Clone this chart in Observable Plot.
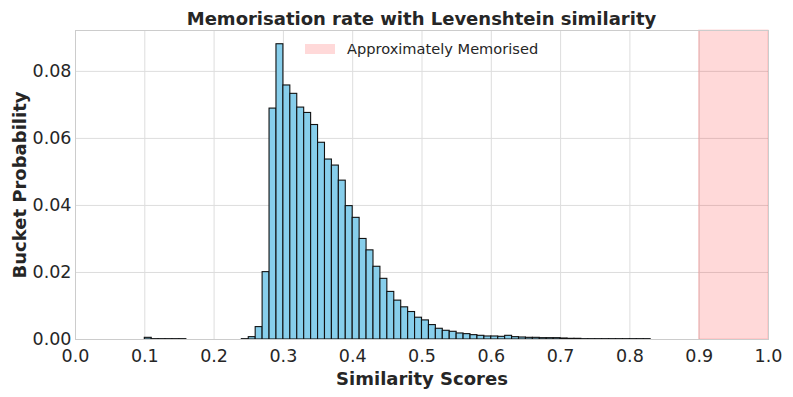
<!DOCTYPE html>
<html>
<head>
<meta charset="utf-8">
<script src="https://cdn.jsdelivr.net/npm/d3@7"></script>
<script src="https://cdn.jsdelivr.net/npm/@observablehq/plot@0.6"></script>
<style>
  html, body { margin: 0; padding: 0; background: #fff; }
  #wrap { position: relative; width: 793px; height: 397px; font-family: "DejaVu Sans", sans-serif; color: #262626; }
  #title { position: absolute; left: 75px; width: 693px; top: 8px; text-align: center; font-weight: bold; font-size: 18px; white-space: nowrap; }
  #legend { position: absolute; left: 305px; top: 40px; display: flex; align-items: center; font-size: 14.6px; }
  #legend .sw { width: 30px; height: 10px; background: rgba(255,0,0,0.15); margin-right: 12px; }
  svg [aria-label="x-axis label"] text, svg [aria-label="y-axis label"] text { font-weight: bold; font-size: 18px; }
</style>
</head>
<body>
<div id="wrap">
  <div id="title"></div>
  <div id="legend"><div class="sw"></div><span id="legendText"></span></div>
</div>
<script>
const titleText = "Memorisation rate with Levenshtein similarity";
const legendLabel = "Approximately Memorised";
const xLabel = "Similarity Scores";
const yLabel = "Bucket Probability";

const bucketStart = [0.10, 0.11, 0.12, 0.13, 0.14, 0.15, 0.24, 0.25, 0.26, 0.27, 0.28, 0.29,
  0.30, 0.31, 0.32, 0.33, 0.34, 0.35, 0.36, 0.37, 0.38, 0.39,
  0.40, 0.41, 0.42, 0.43, 0.44, 0.45, 0.46, 0.47, 0.48, 0.49,
  0.50, 0.51, 0.52, 0.53, 0.54, 0.55, 0.56, 0.57, 0.58, 0.59,
  0.60, 0.61, 0.62, 0.63, 0.64, 0.65, 0.66, 0.67, 0.68, 0.69,
  0.70, 0.71, 0.72, 0.73, 0.74, 0.75, 0.76, 0.77, 0.78, 0.79,
  0.80, 0.81, 0.82];
const probability = [0.0005, 0.0001, 0.0001, 0.0001, 0.0001, 0.0001, 0.0001, 0.0007, 0.0037, 0.0201, 0.0689, 0.0881,
  0.0758, 0.0733, 0.0692, 0.0676, 0.0640, 0.0587, 0.0537, 0.0519, 0.0474, 0.0398,
  0.0363, 0.0300, 0.0266, 0.0217, 0.0181, 0.0142, 0.0116, 0.0096, 0.0082, 0.0065,
  0.0057, 0.0043, 0.0032, 0.0026, 0.0023, 0.0018, 0.0016, 0.0013, 0.0011, 0.0009,
  0.0009, 0.0008, 0.0011, 0.0007, 0.0006, 0.0005, 0.0005, 0.0004, 0.0004, 0.0004,
  0.0003, 0.0002, 0.0002, 0.0001, 0.0001, 0.0001, 0.0001, 0.0001, 0.0001, 0.0001,
  0.0001, 0.0001, 0.0001];
const bucketWidth = 0.01;
const memorisedRange = [{from: 0.9, to: 1.0}];
const xTicks = [0, 0.1, 0.2, 0.3, 0.4, 0.5, 0.6, 0.7, 0.8, 0.9, 1.0];
const yTicks = [0, 0.02, 0.04, 0.06, 0.08];

const bins = bucketStart.map((s, i) => ({x1: s, x2: s + bucketWidth, p: probability[i]}));

document.getElementById("title").textContent = titleText;
document.getElementById("legendText").textContent = legendLabel;

const chart = Plot.plot({
  width: 793,
  height: 397,
  marginLeft: 75,
  marginRight: 25,
  marginTop: 30,
  marginBottom: 58,
  style: {fontFamily: "DejaVu Sans, sans-serif", fontSize: "17.5px", color: "#262626", background: "transparent"},
  x: {domain: [0, 1]},
  y: {domain: [0, 0.0922]},
  marks: [
    Plot.gridX(xTicks, {stroke: "#dddddd", strokeOpacity: 1}),
    Plot.gridY(yTicks, {stroke: "#dddddd", strokeOpacity: 1}),
    Plot.rect(memorisedRange, {x1: "from", x2: "to", fill: "red", fillOpacity: 0.15, stroke: "red", strokeOpacity: 0.15}),
    Plot.rectY(bins, {x1: "x1", x2: "x2", y: "p", fill: "skyblue", stroke: "#111111", strokeWidth: 1.1}),
    Plot.frame({stroke: "#cccccc"}),
    Plot.axisX(xTicks, {tickSize: 0, tickPadding: 10, tickFormat: d3.format(".1f"), label: xLabel, labelAnchor: "center", labelArrow: "none", labelOffset: 45}),
    Plot.axisY(yTicks, {tickSize: 0, tickPadding: 4, tickFormat: d3.format(".2f"), label: yLabel, labelAnchor: "center", labelArrow: "none", labelOffset: 62})
  ]
});
document.getElementById("wrap").prepend(chart);
chart.style.position = "absolute";
chart.style.left = "0";
chart.style.top = "0";
</script>
</body>
</html>
